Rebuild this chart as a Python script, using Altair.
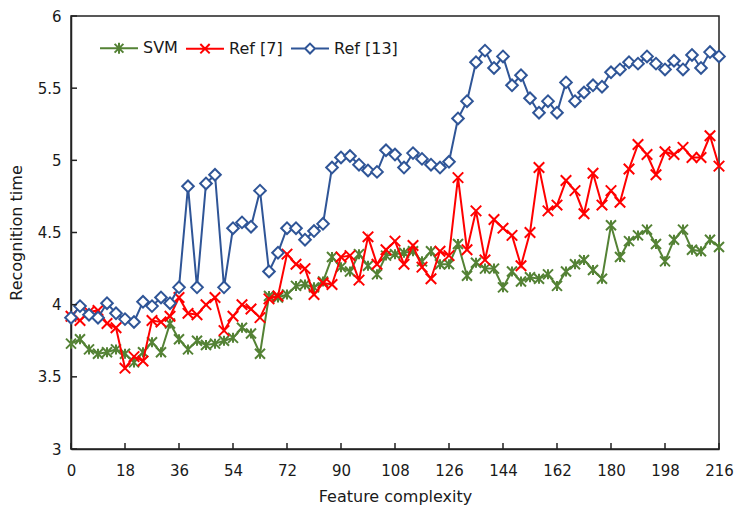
import altair as alt
import pandas as pd

# ---- data ----
x_vals = list(range(0, 217, 3))

svm = [3.73, 3.76, 3.69, 3.66, 3.67, 3.69, 3.66, 3.60, 3.67, 3.74, 3.67, 3.87, 3.76,
       3.69, 3.75, 3.72, 3.73, 3.75, 3.77, 3.84, 3.80, 3.66, 4.06, 4.05, 4.07, 4.13,
       4.14, 4.12, 4.16, 4.33, 4.26, 4.23, 4.35, 4.27, 4.21, 4.34, 4.35, 4.36, 4.37,
       4.30, 4.37, 4.28, 4.28, 4.42, 4.20, 4.29, 4.25, 4.25, 4.12, 4.23, 4.16, 4.19,
       4.18, 4.21, 4.13, 4.23, 4.28, 4.31, 4.24, 4.18, 4.55, 4.33, 4.44, 4.48, 4.52,
       4.42, 4.30, 4.45, 4.52, 4.38, 4.37, 4.45, 4.40]

ref7 = [3.92, 3.89, 3.95, 3.96, 3.87, 3.84, 3.56, 3.64, 3.61, 3.89, 3.88, 3.92, 4.05,
        3.94, 3.93, 4.00, 4.05, 3.82, 3.92, 4.00, 3.97, 3.91, 4.04, 4.06, 4.35, 4.28,
        4.25, 4.07, 4.15, 4.14, 4.33, 4.34, 4.17, 4.47, 4.28, 4.38, 4.44, 4.28, 4.41,
        4.26, 4.18, 4.37, 4.34, 4.88, 4.38, 4.65, 4.31, 4.59, 4.53, 4.48, 4.27, 4.50,
        4.95, 4.65, 4.69, 4.86, 4.79, 4.63, 4.91, 4.69, 4.79, 4.71, 4.94, 5.11, 5.04,
        4.90, 5.06, 5.04, 5.09, 5.02, 5.02, 5.17, 4.96]

ref13 = [3.91, 3.99, 3.93, 3.91, 4.01, 3.94, 3.90, 3.88, 4.02, 3.99, 4.05, 4.01, 4.12,
         4.82, 4.12, 4.84, 4.90, 4.12, 4.53, 4.57, 4.54, 4.79, 4.23, 4.36, 4.53, 4.53,
         4.45, 4.51, 4.56, 4.95, 5.02, 5.03, 4.97, 4.93, 4.92, 5.07, 5.04, 4.95, 5.05,
         5.01, 4.97, 4.95, 4.99, 5.29, 5.41, 5.68, 5.76, 5.64, 5.72, 5.52, 5.59, 5.43,
         5.33, 5.41, 5.33, 5.54, 5.41, 5.47, 5.52, 5.51, 5.61, 5.63, 5.68, 5.67, 5.72,
         5.67, 5.63, 5.69, 5.63, 5.73, 5.64, 5.75, 5.72]

series_names = ["SVM", "Ref [7]", "Ref [13]"]
series_colors = ["#548235", "#FF0000", "#2F5597"]
x_ticks = list(range(0, 217, 18))
y_ticks = [3, 3.5, 4, 4.5, 5, 5.5, 6]

# ---- styles ----
FONT = "DejaVu Sans"
TXT = "#1a1a1a"
AX = "#222222"
ASTERISK = "M-1,-1L1,1M-1,1L1,-1M0,-1L0,1"
CROSS = "M-1,-1L1,1M-1,1L1,-1"
DIAMOND = "M-1,0L0,-1L1,0L0,1Z"
legend_paths = [
    "M-3.45,0L3.45,0M-0.8,-0.8L0.8,0.8M-0.8,0.8L0.8,-0.8M0,-1L0,1",
    "M-3.45,0L3.45,0M-0.85,-0.85L0.85,0.85M-0.85,0.85L0.85,-0.85",
    "M-3.45,0L-0.9,0M0.9,0L3.45,0M-0.9,0L0,-0.9L0.9,0L0,0.9Z",
]

rows = []
for name, vals in zip(series_names, [svm, ref7, ref13]):
    for xv, yv in zip(x_vals, vals):
        rows.append({"x": xv, "y": yv, "series": name})
df = pd.DataFrame(rows)

W, H = 648, 433

xscale = alt.Scale(domain=[0, 216], nice=False, zero=False)
yscale = alt.Scale(domain=[3, 6], nice=False, zero=False)

X = alt.X("x:Q", scale=xscale,
          axis=alt.Axis(values=x_ticks, format="d", title="Feature complexity",
                        ticks=False, labelFlush=False, labelPadding=14, titlePadding=10))
Y = alt.Y("y:Q", scale=yscale,
          axis=alt.Axis(values=y_ticks, format="~g", title="Recognition time",
                        ticks=False, labelFlush=False, labelPadding=10, titlePadding=13))

base = alt.Chart(df).encode(x=X, y=Y)

layers = []
marker_specs = [
    dict(shape=ASTERISK, size=100, filled=False),
    dict(shape=CROSS, size=110, filled=False),
    dict(shape=DIAMOND, size=135, filled=True),
]
for name, color, spec in zip(series_names, series_colors, marker_specs):
    sub = base.transform_filter(alt.datum.series == name)
    layers.append(sub.mark_line(color=color, strokeWidth=2))
    if spec["filled"]:
        pts = sub.mark_point(shape=spec["shape"], size=spec["size"], filled=True,
                             fill="white", stroke=color, strokeWidth=2, opacity=1)
    else:
        pts = sub.mark_point(shape=spec["shape"], size=spec["size"], filled=False,
                             color=color, strokeWidth=2, opacity=1)
    layers.append(pts)

# inward tick marks on the two axes
xt = alt.Chart(pd.DataFrame({"t": x_ticks})).mark_rule(color=AX, strokeWidth=1.5).encode(
    x=alt.X("t:Q", scale=xscale), y=alt.value(H), y2=alt.value(H - 6))
yt = alt.Chart(pd.DataFrame({"t": y_ticks})).mark_rule(color=AX, strokeWidth=1.5).encode(
    y=alt.Y("t:Q", scale=yscale), x=alt.value(0), x2=alt.value(6))
layers.extend([xt, yt])

leg = dict(orient="none", legendX=40, legendY=24, direction="horizontal", title=None,
           labelFont=FONT, labelFontSize=16, labelColor=TXT, symbolSize=121,
           symbolStrokeWidth=2, labelOffset=16, columnPadding=4, padding=0)

legend_layer = base.transform_filter("datum.x < 0").mark_point(
    filled=False, strokeWidth=2, opacity=1
).encode(
    stroke=alt.Stroke("series:N", scale=alt.Scale(domain=series_names, range=series_colors),
                      legend=alt.Legend(**leg)),
    shape=alt.Shape("series:N", scale=alt.Scale(domain=series_names, range=legend_paths),
                    legend=alt.Legend(**leg)),
)
layers.append(legend_layer)

chart = alt.layer(*layers).properties(
    width=W, height=H,
    autosize=alt.AutoSizeParams(type="none"),
    padding={"left": 63, "top": 8, "right": 15, "bottom": 59},
).configure_view(
    stroke=AX, strokeWidth=1.5
).configure_axis(
    grid=False, labelFont=FONT, labelFontSize=15, labelColor=TXT,
    titleFont=FONT, titleFontSize=16, titleFontWeight="normal", titleColor=TXT,
    domainColor=AX, domainWidth=1.5,
)

chart.save("out.html", embed_options={"renderer": "svg", "actions": False})
